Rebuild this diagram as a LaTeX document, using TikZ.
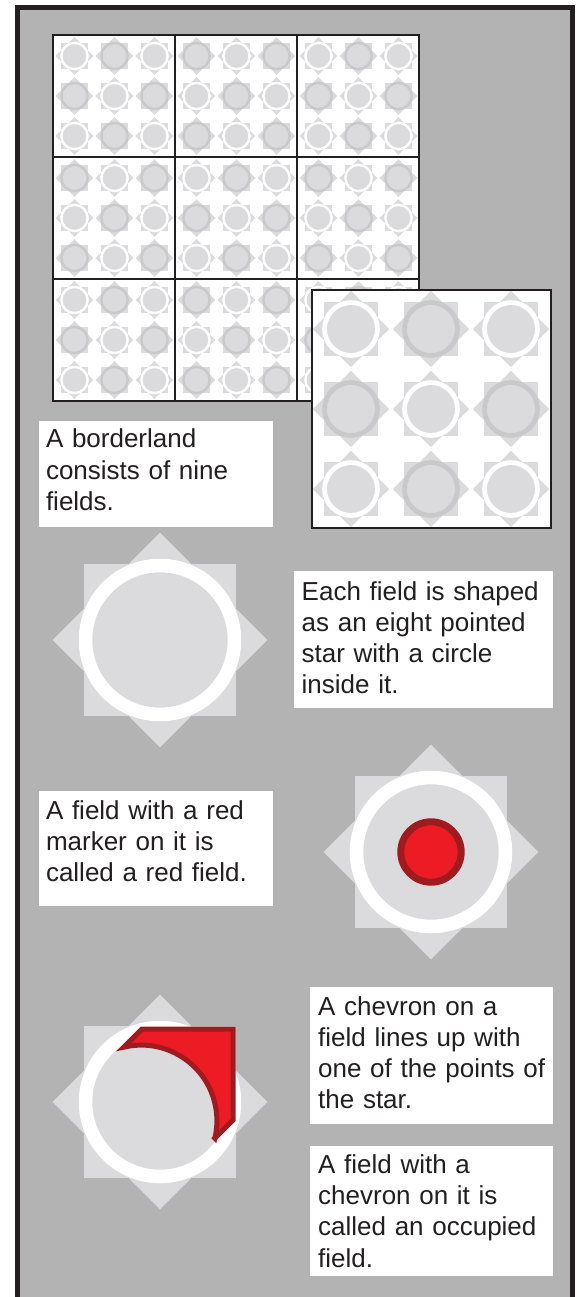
\documentclass[tikz,border=0pt]{standalone}
\usepackage{fontspec}
\setmainfont{Liberation Sans}
\definecolor{bggray}{HTML}{B3B3B3}
\definecolor{starfill}{HTML}{DBDBDD}
\definecolor{ringgray}{HTML}{C9C9CC}
\definecolor{darkline}{HTML}{231F20}
\definecolor{redfill}{HTML}{ED1C24}
\definecolor{reddark}{HTML}{9E1B20}
\newcommand{\fieldstar}[4]{%
  \pgfmathsetmacro\fsd{1.41421*#3}%
  \pgfmathsetmacro\fsr{0.98*#3}%
  \pgfmathsetmacro\fsw{0.178*#3}%
  \fill[starfill] ({#1-#3},{#2-#3}) rectangle ({#1+#3},{#2+#3});
  \fill[starfill] (#1,{#2-\fsd}) -- ({#1+\fsd},#2) -- (#1,{#2+\fsd}) -- ({#1-\fsd},#2) -- cycle;
  \draw[draw=#4, line width=\fsw pt] (#1,#2) circle[radius=\fsr];
}
\tikzset{
  textbox/.style={fill=white, draw=none, inner sep=0pt, anchor=north west},
  txt/.style={inner sep=0pt, anchor=base west, align=left, text=darkline,
    font=\fontsize{26}{31.3}\selectfont},
}
\begin{document}
\begin{tikzpicture}[x=1pt, y=-1pt]
\useasboundingbox (0,0) rectangle (576,1297);
\fill[white] (0,0) rectangle (576,1297);
% frame
\draw[draw=darkline, fill=bggray, line width=5.5pt] (17.45,7.55) rectangle (572.25,1330);
% big grid
\fill[white] (53,35) rectangle (419,401);
\foreach \i in {0,1,2}{
 \foreach \j in {0,1,2}{
  \foreach \r in {0,1,2}{
   \foreach \c in {0,1,2}{
     \pgfmathsetmacro\sx{114.5+122*\j+40*(\c-1)}
     \pgfmathsetmacro\sy{96+122*\i+40*(\r-1)}
     \pgfmathtruncatemacro\fpar{\i+\j+\r+\c}
     \ifodd\fpar \def\rc{ringgray}\else \def\rc{white}\fi
     \fieldstar{\sx}{\sy}{13.4}{\rc}
   }}}}
\draw[darkline, line width=1.2pt] (175,35) -- (175,401) (297,35) -- (297,401)
  (53,157) -- (419,157) (53,279) -- (419,279);
\draw[darkline, line width=1.8pt] (53,35) rectangle (419,401);
% inset
\fill[white] (311.7,290) rectangle (550.7,528);
\foreach \r in {0,1,2}{
  \foreach \c in {0,1,2}{
    \pgfmathsetmacro\sx{351+80*\c}
    \pgfmathsetmacro\sy{329+80*\r}
    \pgfmathtruncatemacro\fpar{\r+\c}
    \ifodd\fpar \def\rc{ringgray}\else \def\rc{white}\fi
    \fieldstar{\sx}{\sy}{27}{\rc}
  }}
\draw[darkline, line width=2pt] (311.7,290) rectangle (550.7,528);
% large stars
\fieldstar{160}{640}{76}{white}
\fieldstar{431}{852}{76}{white}
\fieldstar{160}{1102}{76}{white}
% red marker
\draw[draw=reddark, fill=redfill, line width=7pt] (431,852) circle[radius=30.2];
% chevron
\begin{scope}[shift={(160,1102)}]
\draw[draw=reddark, fill=redfill, line width=5pt, line join=miter]
  (54.85,36.15) -- (73,18) -- (73,-73) -- (-18,-73) -- (-36.15,-54.85)
  arc[start angle=-103.35, end angle=13.35, radius=75.6] -- cycle;
\end{scope}
% text boxes
\node[textbox, minimum width=234.4pt, minimum height=105.7pt] (b1) at (38.3,421) {};
\node[txt, text width=220pt] (t1) at (45.8,447.7) {A borderland\\consists of nine\\fields.};
\node[textbox, minimum width=258.7pt, minimum height=136.3pt] (b2) at (294,571) {};
\node[txt, text width=245pt] (t2) at (301.5,600) {Each field is shaped\\as an eight pointed\\star with a circle\\inside it.};
\node[textbox, minimum width=234.4pt, minimum height=115pt] (b3) at (38.3,791) {};
\node[txt, text width=220pt] (t3) at (45.8,819.3) {A field with a red\\marker on it is\\called a red field.};
\node[textbox, minimum width=242.3pt, minimum height=137.3pt] (b4) at (310,986.7) {};
\node[txt, text width=230pt] (t4) at (318,1015) {A chevron on a\\field lines up with\\one of the points of\\the star.};
\node[textbox, minimum width=242.3pt, minimum height=130.3pt] (b5) at (310,1145.7) {};
\node[txt, text width=230pt] (t5) at (318,1173.3) {A field with a\\chevron on it is\\called an occupied\\field.};
\end{tikzpicture}
\end{document}
